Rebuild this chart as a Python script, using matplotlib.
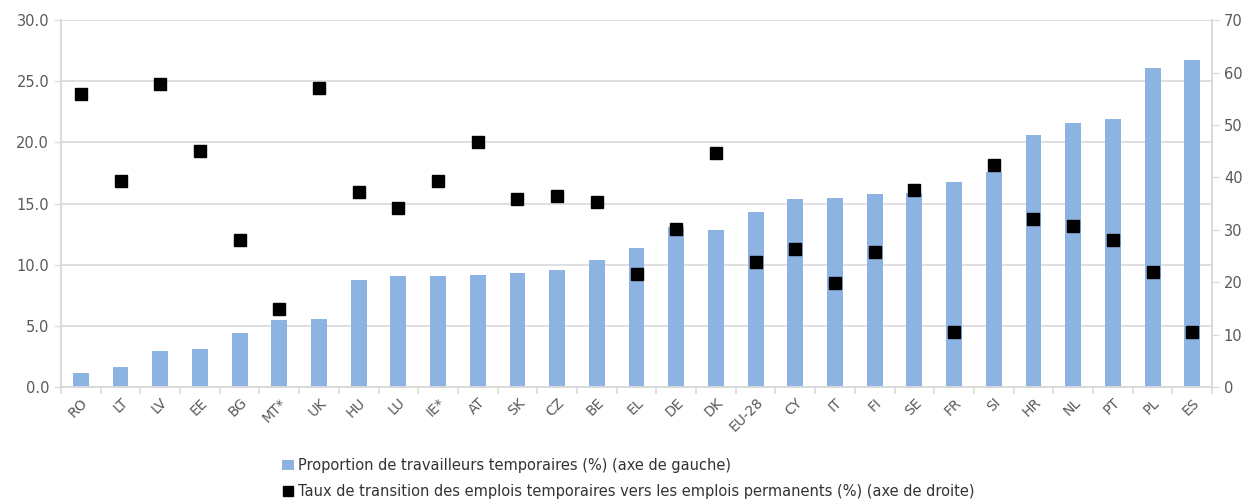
import numpy as np
import matplotlib.pyplot as plt
from matplotlib.lines import Line2D
from matplotlib.patches import Patch

# data
countries = ['RO', 'LT', 'LV', 'EE', 'BG', 'MT*', 'UK', 'HU', 'LU', 'IE*', 'AT', 'SK', 'CZ',
             'BE', 'EL', 'DE', 'DK', 'EU-28', 'CY', 'IT', 'FI', 'SE', 'FR', 'SI', 'HR', 'NL',
             'PT', 'PL', 'ES']
temp_share = [1.15, 1.65, 2.95, 3.1, 4.4, 5.5, 5.55, 8.75, 9.05, 9.05, 9.15, 9.35, 9.6,
              10.4, 11.35, 13.1, 12.85, 14.3, 15.35, 15.45, 15.75, 15.9, 16.75, 17.6, 20.65,
              21.6, 21.95, 26.05, 26.75]
transition = [56.0, 39.4, 57.8, 45.0, 28.1, 14.8, 57.1, 37.2, 34.2, 39.3, 46.8, 35.9, 36.4,
              35.3, 21.5, 30.2, 44.7, 23.8, 26.3, 19.9, 25.8, 37.6, 10.5, 42.3, 32.1, 30.7,
              28.0, 21.9, 10.5]

bar_color = '#8db3e2'
grid_color = '#d9d9d9'
text_color = '#595959'

fig = plt.figure(figsize=(12.6, 5.04), dpi=100)
ax = fig.add_axes([0.0484, 0.232, 0.9136, 0.728])
ax2 = ax.twinx()

x = np.arange(len(countries))
ax.bar(x, temp_share, width=0.4, color=bar_color, zorder=2)
ax2.plot(x, transition, linestyle='none', marker='s', markersize=8.5, color='black', zorder=3)

ax.set_xlim(-0.5, len(countries) - 0.5)
ax.set_ylim(0, 30)
ax.set_yticks(np.arange(0, 30.1, 5))
ax.set_yticklabels([f'{v:.1f}' for v in np.arange(0, 30.1, 5)])
ax2.set_ylim(0, 70)
ax2.set_yticks(np.arange(0, 71, 10))

ax.yaxis.grid(True, color=grid_color, linewidth=1.2, zorder=0)
ax.set_axisbelow(True)

ax.set_xticks(x)
ax.set_xticklabels(countries, rotation=45, ha='right', rotation_mode='anchor', fontsize=10, color=text_color)
ax.tick_params(axis='x', which='major', length=0, pad=6)
ax.set_xticks(np.arange(-0.5, len(countries), 1), minor=True)
ax.tick_params(axis='x', which='minor', length=5, color=grid_color, width=1.2)
ax.tick_params(axis='y', length=5, color=grid_color, labelsize=10.5, labelcolor=text_color)
ax2.tick_params(axis='y', length=5, color=grid_color, labelsize=10.5, labelcolor=text_color)

for a in (ax, ax2):
    a.spines['top'].set_visible(False)
    for s in ('left', 'right', 'bottom'):
        a.spines[s].set_color(grid_color)
        a.spines[s].set_linewidth(1.2)

handles = [Patch(facecolor=bar_color, edgecolor='none'),
           Line2D([], [], linestyle='none', marker='s', markersize=7, color='black')]
labels = ['Proportion de travailleurs temporaires (%) (axe de gauche)',
          'Taux de transition des emplois temporaires vers les emplois permanents (%) (axe de droite)']
fig.legend(handles, labels, loc='upper left', bbox_to_anchor=(0.218, 0.106), frameon=False,
           fontsize=10.5, labelcolor='#333333', handlelength=0.8, handletextpad=0.3,
           labelspacing=0.75, borderpad=0)

fig.savefig('out.png', dpi=100)
